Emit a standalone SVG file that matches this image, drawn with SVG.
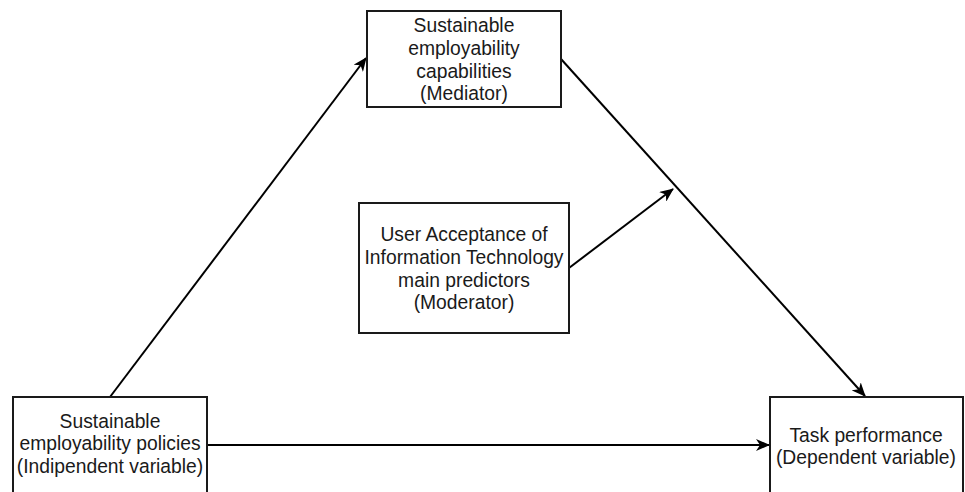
<svg xmlns="http://www.w3.org/2000/svg" width="965" height="492" viewBox="0 0 965 492">
<defs>
<style>
.box{fill:#fff;stroke:#1a1a1a;stroke-width:2}
.t{font-family:"Liberation Sans",Arial,sans-serif;font-size:19.3px;fill:#1a1a1a;text-anchor:middle}
.c{stroke:#000;stroke-width:2;fill:none;marker-end:url(#ah)}
</style>
<marker id="ah" viewBox="0 0 14 12" refX="13" refY="6" markerWidth="14" markerHeight="12" markerUnits="userSpaceOnUse" orient="auto">
<path d="M0,0 L14,6 L0,12 L4,6 Z" fill="#000"/>
</marker>
</defs>
<rect width="965" height="492" fill="#fff"/>
<g id="connectors">
<line class="c" x1="110" y1="397" x2="366" y2="58"/>
<line class="c" x1="561" y1="59" x2="865" y2="396"/>
<line class="c" x1="569" y1="268" x2="673" y2="189"/>
<line class="c" x1="207" y1="445" x2="769" y2="445"/>
</g>
<g id="mediator">
<rect class="box" x="367" y="11" width="194" height="96"/>
<text class="t" x="464" y="32">Sustainable</text>
<text class="t" x="464" y="55">employability</text>
<text class="t" x="464" y="78">capabilities</text>
<text class="t" x="464" y="100">(Mediator)</text>
</g>
<g id="moderator">
<rect class="box" x="359" y="203" width="210" height="130"/>
<text class="t" x="464" y="241">User Acceptance of</text>
<text class="t" x="464" y="264">Information Technology</text>
<text class="t" x="464" y="287">main predictors</text>
<text class="t" x="464" y="309">(Moderator)</text>
</g>
<g id="independent">
<rect class="box" x="13" y="397" width="194" height="110"/>
<text class="t" x="110" y="428">Sustainable</text>
<text class="t" x="110" y="450">employability policies</text>
<text class="t" x="110" y="473">(Indipendent variable)</text>
</g>
<g id="dependent">
<rect class="box" x="770" y="397" width="193" height="110"/>
<text class="t" x="866" y="442">Task performance</text>
<text class="t" x="866" y="464">(Dependent variable)</text>
</g>
</svg>
